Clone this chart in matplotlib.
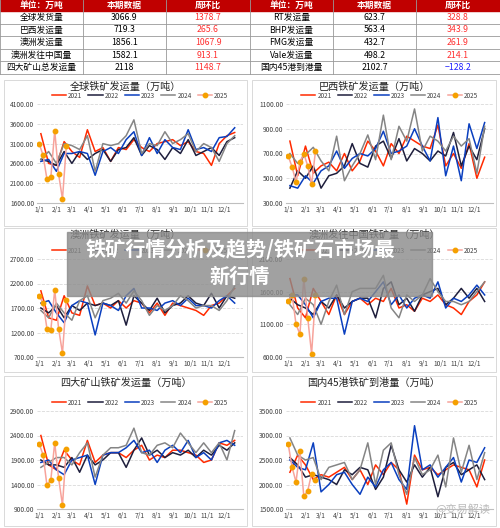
import numpy as np
import matplotlib
matplotlib.use("Agg")
import matplotlib.pyplot as plt
from matplotlib.patches import Rectangle

plt.rcParams['font.family'] = ['Noto Sans CJK SC', 'DejaVu Sans']

# ---------------- table data ----------------
tbl_header = ["单位：万吨", "本期数据", "周环比", "单位：万吨", "本期数据", "周环比"]
tbl_left_names = ["全球发货量", "巴西发运量", "澳洲发运量", "澳洲发往中国量", "四大矿山总发运量"]
tbl_left_vals = ["3066.9", "719.3", "1856.1", "1582.1", "2118"]
tbl_left_chg = ["1378.7", "265.6", "1067.9", "913.1", "1148.7"]
tbl_right_names = ["RT发运量", "BHP发运量", "FMG发运量", "Vale发运量", "国内45港到港量"]
tbl_right_vals = ["623.7", "563.4", "432.7", "498.2", "2102.7"]
tbl_right_chg = ["328.8", "343.9", "261.9", "214.1", "−128.2"]

# ---------------- chart data ----------------
years = ["2021", "2022", "2023", "2024", "2025"]
month_ticks = ["1/1", "2/1", "3/1", "4/1", "5/1", "6/1", "7/1", "8/1", "9/1", "10/1", "11/1", "12/1"]
month_days = [0, 31, 59, 90, 120, 151, 181, 212, 243, 273, 304, 334]

titles = ["全球铁矿发运量（万吨）", "巴西铁矿发运量（万吨）", "澳洲铁矿发运量（万吨）",
          "澳洲发往中国铁矿量（万吨）", "四大矿山铁矿发运量（万吨）", "国内45港铁矿到港量（万吨）"]
yticks = [[1600, 2100, 2600, 3100, 3600, 4100], [300, 500, 700, 900, 1100],
          [700, 1200, 1700, 2200, 2700], [600, 1100, 1600, 2100],
          [900, 1400, 1900, 2400, 2900], [1500, 2000, 2500, 3000, 3500]]

global_ = [
 [3350,2600,2550,3150,2900,2750,3450,2900,3000,2650,3000,2950,3200,3000,2900,3100,3150,3200,3050,3150,2900,2850,2550,3100,3300,3380],
 [2700,2650,2550,2900,2600,2900,2700,2850,2950,2650,2950,3000,3250,2800,3050,2950,2700,3000,2850,3200,2800,2900,3000,2800,3150,3250],
 [2650,2700,2400,2850,2850,2900,2850,2300,2900,3000,2850,3200,3400,2800,3250,2850,3200,3000,2950,3450,2950,3000,2900,3250,3280,3500],
 [2700,2900,2600,3100,3050,2950,3300,2400,3100,3050,3100,3300,3700,2850,3100,3050,3400,3100,3200,3350,2900,3100,3000,2650,3100,3300],
 [3100,2800,2200,2250,3430,2330,1700,3050]]
brazil = [
 [800,520,760,540,600,630,560,700,560,640,800,720,600,780,700,840,800,760,740,930,600,700,580,780,500,670],
 [420,560,500,600,420,520,540,600,780,620,590,760,800,660,820,640,740,700,640,720,680,870,600,760,650,900],
 [440,420,520,460,560,600,720,580,660,700,680,740,880,700,720,760,900,760,640,990,520,760,480,940,740,950],
 [700,620,690,750,640,560,840,480,600,700,850,650,1010,650,920,800,1060,720,840,800,720,840,760,820,540,920],
 [680,590,470,630,700,600,450,720]]
australia = [
 [2050,1500,1450,1950,1600,1550,2150,1750,1800,1700,1850,1700,1850,1800,1600,1800,1550,1800,1750,1700,1650,1550,1750,1800,1950,2100],
 [1700,1600,1750,1500,1750,1650,1800,1750,1800,1750,1850,1350,1950,1800,1650,1900,1600,1750,1800,1950,1800,1750,2000,1700,1950,1900],
 [1800,1850,1600,1400,1750,1850,1800,1150,1800,1750,1650,1950,2100,1700,1700,1650,1800,1850,1750,1900,1750,1750,1700,1850,1950,1800],
 [1650,1500,1800,1600,1450,1850,1950,1500,1850,1900,2000,1800,2050,1850,1550,1750,1650,1750,1950,1850,1700,1750,1750,1650,1850,2150],
 [1950,1800,1280,1250,2070,1280,780,1870]]
aus_china = [
 [1800,1350,1200,1650,1450,1250,1550,1250,1450,1500,1400,1500,1450,1650,1350,1400,1300,1500,1450,1550,1400,1350,1250,1450,1550,1750],
 [1500,1400,1350,1250,1450,1350,1550,1350,1450,1500,1500,1200,1650,1750,1400,1500,1300,1550,1600,1650,1400,1500,1650,1500,1650,1450],
 [1550,1550,1400,1200,1450,1500,1500,950,1450,1500,1450,1600,1750,1400,1550,1350,1500,1550,1500,1750,1350,1500,1450,1550,1700,1550],
 [1400,1250,1500,1400,1100,1450,1700,1250,1600,1650,1650,1650,1850,1350,1200,1550,1450,1550,1800,1600,1450,1450,1400,1450,1600,1750],
 [1450,1550,1100,950,1800,1200,650,1550]]
four_majors = [
 [2400,1800,1700,2100,1900,1800,2300,1850,2000,2050,2050,1950,2100,2200,1900,2000,1950,2100,2100,2050,2000,1850,1900,2250,2200,2300],
 [1900,1800,1800,1750,1950,1650,2000,1800,1900,2050,2050,1750,2100,2350,2000,2100,1950,2050,2000,2100,1950,2100,2000,2200,2100,2250],
 [1850,1900,1700,1600,1900,1950,2000,1400,2000,2050,2050,2150,2300,2050,2100,1850,2100,2200,2050,2300,1950,2050,1900,2250,2300,2200],
 [1750,1850,1950,1950,1800,2050,2250,1550,2000,2150,2150,2200,2550,2050,2000,2200,2250,2150,2450,2250,2050,2250,2050,2250,1900,2500],
 [2230,2000,1380,1500,2250,1530,980,2130]]
ports45 = [
 [2250,2600,2400,2100,2200,2150,2250,2350,2100,2300,2000,2400,2200,2450,2300,1600,2600,2300,2350,2200,2300,2400,2350,2300,1950,2500],
 [2550,2400,2150,2200,2150,2100,2000,2300,2200,2350,2300,1900,2150,2800,2300,2050,2400,2150,2350,1750,2350,2450,2200,2300,2400,2100],
 [2500,2350,2300,2850,1850,2000,2200,2250,2000,1800,2150,1950,2300,2450,2100,1900,3200,2300,2400,2150,2350,2550,2050,2500,2450,2750],
 [2950,2600,2500,2550,2100,2350,2400,2450,2100,2300,2850,2000,2700,2850,2200,1800,2550,2200,2300,2600,1950,2950,2250,2800,2100,2650],
 [2820,2350,2050,2680,1760,1870,2220,2100]]
datasets = [global_, brazil, australia, aus_china, four_majors, ports45]

colors = ['#ff2a00', '#1e1e3c', '#0a3fbf', '#858585', '#f7a39b']
W, H = 500, 528
fig = plt.figure(figsize=(W/100, H/100), dpi=100)
fig.patch.set_facecolor('white')

def fy(y):
    return 1 - y / H

# ---------------- table ----------------
cols = [0, 83, 166, 250, 333, 416, 500]
row_h = 12.6
fig.patches.append(Rectangle((0, fy(11)), 1, 11/H, transform=fig.transFigure, color='#c00000', zorder=1))
for i, t in enumerate(tbl_header):
    fig.text((cols[i]+cols[i+1])/2/W, fy(5.5), t, ha='center', va='center', color='white', fontsize=6.3, weight='bold')
for r in range(5):
    yc = 11 + row_h*(r+0.5)
    cells = [tbl_left_names[r], tbl_left_vals[r], tbl_left_chg[r], tbl_right_names[r], tbl_right_vals[r], tbl_right_chg[r]]
    for i, t in enumerate(cells):
        c = 'black'
        if i in (2, 5):
            c = '#2020ff' if t.startswith('−') else '#ff3030'
        fig.text((cols[i]+cols[i+1])/2/W, fy(yc), t, ha='center', va='center', color=c, fontsize=6.3)
    fig.add_artist(plt.Line2D([0, 1], [fy(11+row_h*(r+1))]*2, color='#999999', lw=0.6))
for x in cols:
    fig.add_artist(plt.Line2D([x/W]*2, [fy(0), fy(74)], color='#999999', lw=0.6))

# ---------------- panels ----------------
x_year = np.arange(26)*14 + 3
x_2025 = np.arange(8)*7
panel_boxes = [(4, 80, 243, 146), (252, 80, 244, 146), (4, 228, 243, 144), (252, 228, 244, 144),
               (4, 376, 243, 150), (252, 376, 244, 150)]
axes_rows = [(104, 203), (259, 357), (411, 509)]
axes_cols = [(37, 243), (286, 493)]

for k in range(6):
    r, c = divmod(k, 2)
    bx, by, bw, bh = panel_boxes[k]
    fig.patches.append(Rectangle((bx/W, fy(by+bh)), bw/W, bh/H, transform=fig.transFigure,
                                 fill=False, ec='#d9d9d9', lw=0.7))
    x0, x1 = axes_cols[c]
    yt, yb = axes_rows[r]
    ax = fig.add_axes([x0/W, fy(yb), (x1-x0)/W, (yb-yt)/H])
    d = datasets[k]
    for j in range(4):
        ax.plot(x_year, d[j], color=colors[j], lw=1.1, label=years[j])
    ax.plot(x_2025, d[4], color=colors[4], lw=1.1, marker='o', ms=3.2,
            mfc='#f5a000', mec='#f5a000', label=years[4])
    yk = yticks[k]
    ax.set_ylim(yk[0], yk[-1])
    ax.set_yticks(yk)
    ax.set_yticklabels([f"{v:.2f}" for v in yk], fontsize=4.8, color='#404040')
    ax.set_xlim(-4, 368)
    ax.set_xticks(month_days)
    ax.set_xticklabels(month_ticks, fontsize=4.8, color='#404040')
    ax.tick_params(length=0, pad=2)
    for s in ['top', 'right', 'left']:
        ax.spines[s].set_visible(False)
    ax.spines['bottom'].set_color('#bfbfbf')
    ax.grid(axis='y', ls='--', color='#d9d9d9', lw=0.6)
    ax.set_axisbelow(True)
    cx = (bx + bw/2)/W
    fig.text(cx, fy(by+7), titles[k], ha='center', va='center', fontsize=7.3, color='#222222')
    ax.legend(loc='lower center', bbox_to_anchor=(0.5, 1.0), ncol=5, frameon=False, fontsize=4.6,
              handlelength=2.2, columnspacing=1.0, handletextpad=0.3, borderaxespad=0.3,
              labelcolor='#404040')

# ---------------- banner & watermark ----------------
fig.patches.append(Rectangle((67/W, fy(296)), 365/W, 64/H, transform=fig.transFigure,
                             color='#8a8a8a', alpha=0.8, zorder=10))
fig.text(240/W, fy(249), "铁矿行情分析及趋势/铁矿石市场最", ha='center', va='center', fontsize=14.5,
         color='white', weight='bold', zorder=11)
fig.text(240/W, fy(276), "新行情", ha='center', va='center', fontsize=14.5, color='white', weight='bold', zorder=11)
fig.text(490/W, fy(509), "@变易解读", ha='right', va='center', fontsize=8, color='#bbbbbb', zorder=11)

fig.savefig("out.png", dpi=100)
